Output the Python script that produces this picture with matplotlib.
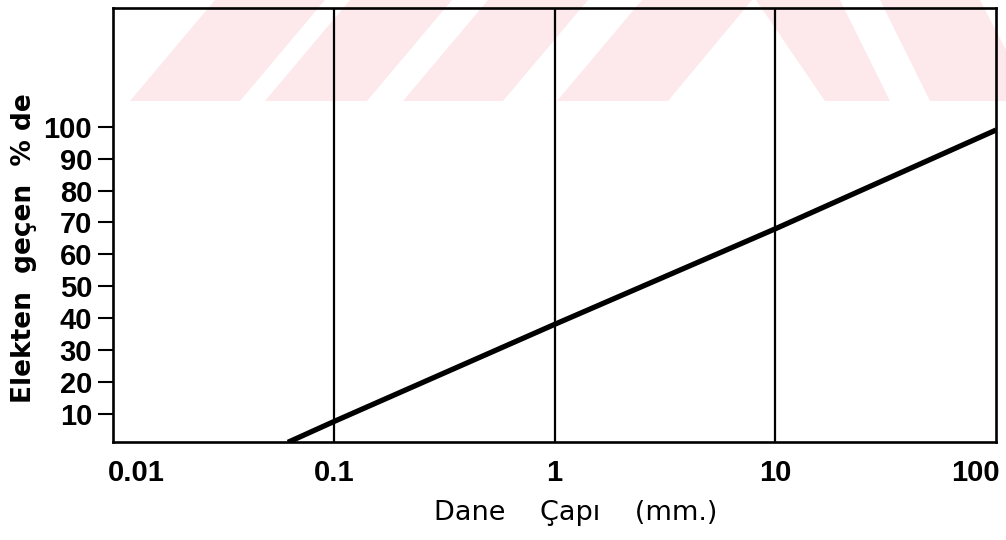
import matplotlib
matplotlib.use("Agg")
import matplotlib.pyplot as plt
from matplotlib.patches import Polygon
from matplotlib.transforms import ScaledTranslation

# Grain-size (sieve) curve: particle diameter in mm vs. percent passing
diameter_mm = [0.062, 0.1, 1, 10, 100]
percent_passing = [1, 7.5, 38, 68, 99]

x_ticks = [0.01, 0.1, 1, 10, 100]
x_tick_labels = ["0.01", "0.1", "1", "10", "100"]
y_ticks = [10, 20, 30, 40, 50, 60, 70, 80, 90, 100]
y_tick_labels = [str(v) for v in y_ticks]
guide_lines = [0.1, 1, 10]

W, H = 1006, 540
fig = plt.figure(figsize=(W / 100, H / 100), dpi=100)
fig.patch.set_facecolor("white")


def px(x, y):
    return (x / W, 1 - y / H)


# faint background stripes across the top of the page
stripes = [
    [(130, 101), (240, 101), (325, 0), (215, 0)],
    [(265, 101), (367, 101), (452, 0), (350, 0)],
    [(403, 101), (503, 101), (588, 0), (488, 0)],
    [(557, 101), (668, 101), (752, 0), (642, 0)],
    [(825, 101), (890, 101), (840, 0), (756, 0)],
    [(930, 101), (1006, 101), (1006, 50), (980, 0), (880, 0)],
]
for poly in stripes:
    fig.add_artist(Polygon([px(*p) for p in poly], closed=True,
                           transform=fig.transFigure, facecolor="#fde8ec",
                           edgecolor="none", zorder=-5))

ax = fig.add_axes([113 / W, 1 - 442 / H, (996 - 113) / W, (442 - 8) / H])
ax.set_facecolor("none")
ax.set_xscale("log")
ax.set_xlim(0.01, 100)
ax.set_ylim(1.1, 137.3)

for xv in guide_lines:
    ax.axvline(xv, color="black", lw=1.6, zorder=2)

ax.plot(diameter_mm, percent_passing, color="black", lw=3.8,
        solid_capstyle="butt", zorder=3, clip_on=True)

for s in ax.spines.values():
    s.set_linewidth(1.9)
    s.set_color("black")

tick_font = dict(family=["Liberation Sans", "DejaVu Sans"],
                 weight="bold", size=21)

ax.set_xticks(x_ticks)
ax.set_xticklabels(x_tick_labels, fontdict=tick_font)
ax.xaxis.set_minor_locator(matplotlib.ticker.NullLocator())
ax.tick_params(axis="x", length=0, pad=12)

ax.set_yticks(y_ticks)
ax.set_yticklabels(y_tick_labels, fontdict=tick_font)
ax.yaxis.set_minor_locator(matplotlib.ticker.NullLocator())
ax.tick_params(axis="y", direction="out", length=11, width=1.5, pad=4)

# keep the end labels inside the frame
xl = ax.get_xticklabels()
xl[0].set_horizontalalignment("left")
xl[0].set_transform(xl[0].get_transform() + ScaledTranslation(-5 / 100, 0, fig.dpi_scale_trans))
xl[-1].set_horizontalalignment("right")
xl[-1].set_transform(xl[-1].get_transform() + ScaledTranslation(4 / 100, 0, fig.dpi_scale_trans))

fig.text(*px(576, 513), "Dane    Çapı    (mm.)", ha="center", va="center",
         fontsize=19.5, family="DejaVu Sans")
fig.text(*px(24, 248), "Elekten  geçen  % de", ha="center", va="center",
         rotation=90, fontsize=19, weight="bold", family="DejaVu Sans")

fig.savefig("out.png", dpi=100, facecolor="white")
